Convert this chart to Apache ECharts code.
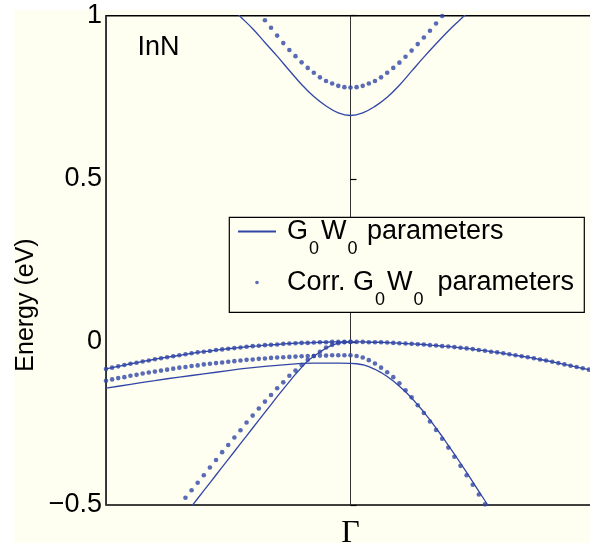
<!DOCTYPE html>
<html><head><meta charset="utf-8">
<script src="https://cdn.jsdelivr.net/npm/echarts@6/dist/echarts.min.js"></script>
<style>
html,body{margin:0;padding:0;background:#fff;}
#bg{position:absolute;left:14px;top:10px;width:576px;height:533px;background:#fefef1;}
#c{position:absolute;left:0;top:0;width:590px;height:543px;}
</style></head><body>
<div id="bg"></div><div id="c"></div>
<script>
// ---------- data ----------
const seriesNames = ['G0W0 parameters', 'Corr. G0W0 parameters'];
const materialLabel = 'InN';
const yAxisTitle = 'Energy (eV)';
const xTickLabel = 'Γ';
const yTicks = [-0.5, 0, 0.5, 1];

// k grid of the corrected (dotted) bands
const kGrid = [-1,-0.975,-0.95,-0.925,-0.9,-0.875,-0.85,-0.825,-0.8,-0.775,-0.75,-0.725,-0.7,-0.675,-0.65,-0.625,-0.6,-0.575,-0.55,-0.525,
 -0.5,-0.475,-0.45,-0.425,-0.4,-0.375,-0.35,-0.325,-0.3,-0.275,-0.25,-0.225,-0.2,-0.175,-0.15,-0.125,-0.1,-0.075,-0.05,-0.025,
 0,0.025,0.05,0.075,0.1,0.125,0.15,0.175,0.2,0.225,0.25,0.275,0.3,0.325,0.35,0.375,0.4,0.425,0.45,0.475,
 0.5,0.525,0.55,0.575,0.6,0.625,0.65,0.675,0.7,0.725,0.75,0.775,0.8,0.825,0.85,0.875,0.9,0.925,0.95,0.975];

// corrected bands (dots)
const corrA = [-0.083,-0.079,-0.075,-0.071,-0.067,-0.064,-0.060,-0.057,-0.053,-0.050,-0.047,-0.044,-0.041,-0.038,-0.035,-0.032,-0.030,-0.028,-0.025,-0.023,
 -0.021,-0.019,-0.017,-0.015,-0.013,-0.012,-0.010,-0.009,-0.008,-0.006,-0.005,-0.004,-0.003,-0.003,-0.002,-0.001,-0.001,0,0,0,
 0,0,0,-0.001,-0.001,-0.001,-0.002,-0.003,-0.004,-0.005,-0.006,-0.007,-0.008,-0.010,-0.011,-0.013,-0.014,-0.016,-0.018,-0.020,
 -0.022,-0.025,-0.027,-0.030,-0.032,-0.035,-0.038,-0.041,-0.044,-0.047,-0.050,-0.054,-0.057,-0.061,-0.065,-0.069,-0.073,-0.077,-0.081,-0.085];
const corrBStart = -1;
const corrB = [-0.119,-0.115,-0.111,-0.108,-0.104,-0.101,-0.097,-0.094,-0.091,-0.088,-0.085,-0.082,-0.079,-0.077,-0.074,-0.072,-0.069,-0.067,-0.065,-0.063,
 -0.061,-0.059,-0.057,-0.055,-0.054,-0.052,-0.051,-0.049,-0.048,-0.047,-0.046,-0.045,-0.044,-0.043,-0.043,-0.042,-0.042,-0.041,-0.041,-0.041,
 -0.041,-0.043,-0.048,-0.056,-0.066,-0.079,-0.093,-0.108,-0.127,-0.148,-0.170,-0.194,-0.218,-0.244,-0.270,-0.297,-0.324,-0.352,-0.380,-0.409,
 -0.438,-0.468,-0.498];
const corrCStart = -0.675;
const corrC = [-0.478,-0.455,-0.432,-0.409,-0.385,-0.362,-0.338,-0.316,-0.293,-0.271,-0.247,-0.226,-0.204,-0.183,-0.163,-0.142,-0.124,-0.104,-0.088,-0.071,
 -0.055,-0.043,-0.030,-0.017,-0.009,-0.004,-0.001,0];
const corrCBStart = -0.35;
const corrCB = [0.986,0.963,0.939,0.916,0.895,0.876,0.857,0.840,0.825,0.811,0.800,0.792,0.785,0.781,0.780,
 0.781,0.785,0.792,0.800,0.811,0.825,0.840,0.856,0.874,0.893,0.913,0.933,0.954,0.976,0.999];

// G0W0 bands (solid lines)
const g0w0A = corrA;
const kB = [-1,-0.95,-0.9,-0.85,-0.8,-0.75,-0.7,-0.65,-0.6,-0.55,-0.5,-0.45,-0.4,-0.35,-0.3,-0.25,-0.2,-0.15,-0.1,-0.05,0,
 0.025,0.05,0.075,0.1,0.125,0.15,0.175,0.2,0.225,0.25,0.275,0.3,0.325,0.35,0.375,0.4,0.425,0.45,0.475,0.5,0.525,0.55,0.575];
const g0w0B = [-0.142,-0.136,-0.130,-0.124,-0.119,-0.113,-0.108,-0.103,-0.098,-0.093,-0.088,-0.083,-0.079,-0.075,-0.072,-0.069,-0.066,-0.065,-0.065,-0.065,-0.066,
 -0.067,-0.070,-0.076,-0.084,-0.094,-0.106,-0.120,-0.136,-0.153,-0.172,-0.193,-0.215,-0.239,-0.264,-0.290,-0.317,-0.344,-0.372,-0.400,-0.429,-0.458,-0.487,-0.516];
const kC = [-0.65,-0.625,-0.6,-0.575,-0.55,-0.525,-0.5,-0.475,-0.45,-0.425,-0.4,-0.375,-0.35,-0.325,-0.3,-0.275,-0.25,-0.225,-0.2,-0.19,-0.175,-0.15,-0.125,-0.1,-0.075,-0.05,-0.025,0];
const g0w0C = [-0.504,-0.480,-0.456,-0.432,-0.408,-0.384,-0.360,-0.336,-0.312,-0.288,-0.264,-0.240,-0.216,-0.192,-0.168,-0.145,-0.122,-0.099,-0.078,-0.070,-0.058,-0.044,-0.031,-0.019,-0.010,-0.004,-0.001,0];
const kCB = [-0.5,-0.45,-0.4,-0.35,-0.3,-0.25,-0.2,-0.15,-0.1,-0.05,0,0.05,0.1,0.15,0.2,0.25,0.3,0.35,0.4,0.45,0.5];
const g0w0CB = [1.035,0.997,0.96,0.918,0.876,0.832,0.789,0.752,0.723,0.702,0.694,0.702,0.722,0.750,0.787,0.830,0.873,0.914,0.953,0.989,1.025];

// ---------- chart ----------
const BLUE = '#3146a6';
const CREAM = '#fefef1';
const FONT = '"Liberation Sans", Helvetica, Arial, sans-serif';
function pairs(ks, vs) { return vs.map((v, j) => [ks[j], v]); }
function fromK(k0, vs) {
  const s = kGrid.findIndex(k => Math.abs(k - k0) < 1e-9);
  return pairs(kGrid.slice(s), vs);
}
const lineStyle = { color: BLUE, width: 1.3 };
function lineSeries(data, smooth) {
  return { name: seriesNames[0], type: 'line', data, symbol: 'none', showSymbol: false, smooth: smooth || false,
    lineStyle, itemStyle: { color: BLUE }, clip: true, z: 2, silent: true };
}
function dotSeries(data) {
  return { name: seriesNames[1], type: 'scatter', data, symbol: 'circle', symbolSize: 4.6,
    itemStyle: { color: BLUE }, clip: false, z: 3, silent: true };
}

const chart = echarts.init(document.getElementById('c'));
chart.setOption({
  animation: false,
  backgroundColor: 'transparent',
  grid: { left: 106, top: 15.7, width: 489, bottom: 38, outerBoundsMode: 'none', containLabel: false,
    show: true, borderColor: '#000', borderWidth: 1.5, backgroundColor: 'transparent' },
  xAxis: {
    type: 'value', min: -1, max: 1, interval: 1,
    axisLine: { show: false }, axisTick: { show: false },
    splitLine: { show: true, lineStyle: { color: '#333', width: 1 } },
    axisLabel: { formatter: v => (v === 0 ? xTickLabel : ''), fontFamily: '"Liberation Serif", "Times New Roman", serif', fontSize: 32, color: '#000', margin: 13 }
  },
  yAxis: {
    type: 'value', min: yTicks[0], max: yTicks[yTicks.length - 1], interval: 0.5,
    axisLine: { show: false },
    axisTick: { show: true, inside: true, length: 6, lineStyle: { color: '#000', width: 1.2 } },
    splitLine: { show: false },
    axisLabel: { formatter: v => String(v).replace('-', '\u2212'), fontFamily: FONT, fontSize: 27, color: '#000', margin: 4 }
  },
  legend: {
    orient: 'vertical', left: 237, top: 218, padding: 0, itemGap: 4,
    itemWidth: 38, itemHeight: 3.6, selectedMode: false, z: 20,
    data: [
      { name: seriesNames[0], itemStyle: { color: 'rgba(0,0,0,0)', borderWidth: 0, opacity: 0 } },
      { name: seriesNames[1], icon: 'circle' }
    ],
    formatter: name => name === seriesNames[0]
      ? '{sp| }{n|G}{s|0}{n|W}{s|0}{n| parameters}'
      : '{sp| }{n|Corr. G}{t|0}{n|W}{t|0}{g| }{n|parameters}',
    textStyle: {
      color: '#000', fontFamily: FONT, fontSize: 27,
      rich: {
        sp: { width: 6, fontSize: 27, lineHeight: 27, verticalAlign: 'top', fontFamily: FONT },
        g: { width: 12, fontSize: 27, lineHeight: 27, verticalAlign: 'top', fontFamily: FONT },
        n: { fontSize: 27, lineHeight: 27, verticalAlign: 'top', fontFamily: FONT, color: '#000' },
        s: { fontSize: 18, lineHeight: 18, padding: [22, 2, 7, 1], verticalAlign: 'top', fontFamily: FONT, color: '#000' },
        t: { fontSize: 18, lineHeight: 18, padding: [22, 2, 0, 1], verticalAlign: 'top', fontFamily: FONT, color: '#000' }
      }
    }
  },
  graphic: [
    { type: 'rect', z: 10, shape: { x: 229.3, y: 217.3, width: 355, height: 95 }, style: { fill: CREAM, stroke: '#000', lineWidth: 1.2 } },
    { type: 'text', z: 10, x: 137.5, y: 48, style: { text: materialLabel, fontSize: 27, fontFamily: FONT, fill: '#000', verticalAlign: 'middle' } },
    { type: 'text', z: 10, x: 26, y: 305, rotation: Math.PI / 2, style: { text: yAxisTitle, fontSize: 25, fontFamily: FONT, fill: '#000', align: 'center', verticalAlign: 'middle' } }
  ],
  series: [
    lineSeries(pairs(kGrid, g0w0A)),
    lineSeries(pairs(kB, g0w0B)),
    lineSeries(pairs(kC, g0w0C)),
    lineSeries(pairs(kCB, g0w0CB), 0.4),
    dotSeries(pairs(kGrid, corrA)),
    dotSeries(fromK(corrBStart, corrB)),
    dotSeries(fromK(corrCStart, corrC)),
    dotSeries(fromK(corrCBStart, corrCB))
  ]
});
</script></body></html>
